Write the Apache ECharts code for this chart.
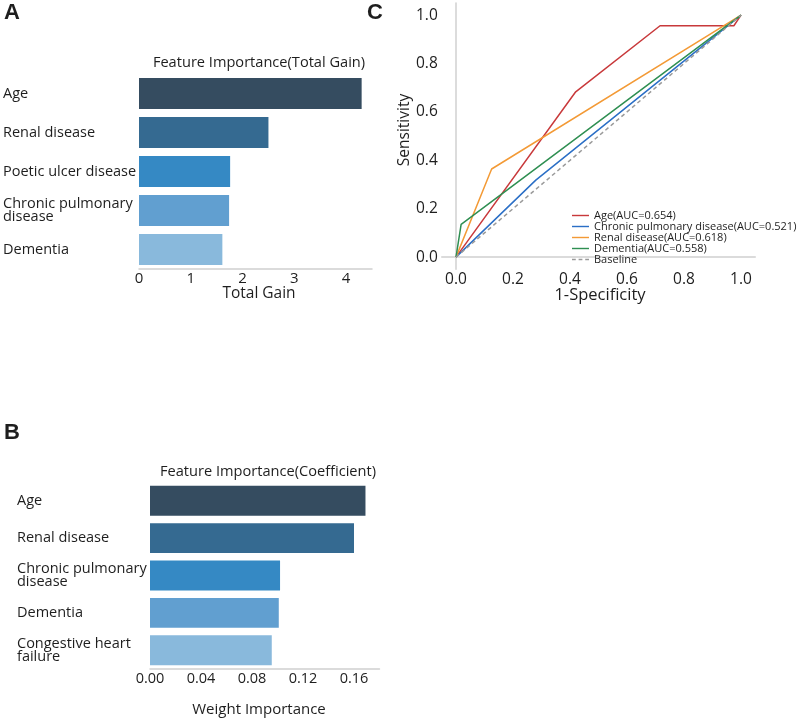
<!DOCTYPE html>
<html>
<head>
<meta charset="utf-8">
<script src="https://cdn.jsdelivr.net/npm/echarts@6/dist/echarts.min.js"></script>
<style>html,body{margin:0;padding:0;background:#fff}#c{width:800px;height:719px}</style>
</head>
<body>
<div id="c"></div>
<script>
// Panel A
const catsA = ['Age', 'Renal disease', 'Poetic ulcer disease', 'Chronic pulmonary\ndisease', 'Dementia'];
const valsA = [4.30, 2.50, 1.76, 1.74, 1.61];
const ticksA = [0, 1, 2, 3, 4];
// Panel B
const catsB = ['Age', 'Renal disease', 'Chronic pulmonary\ndisease', 'Dementia', 'Congestive heart\nfailure'];
const valsB = [0.169, 0.160, 0.102, 0.101, 0.0955];
const ticksB = [0, 0.04, 0.08, 0.12, 0.16];
// Panel C (ROC)
const rocTicks = [0, 0.2, 0.4, 0.6, 0.8, 1.0];
const ageX = [0, 0.42, 0.716, 0.975, 1];
const ageY = [0, 0.683, 0.956, 0.956, 1];
const copdX = [0, 0.28, 1];
const copdY = [0, 0.318, 1];
const renalX = [0, 0.125, 1];
const renalY = [0, 0.364, 1];
const demX = [0, 0.004, 0.018, 1];
const demY = [0, 0.03, 0.135, 1];
const baseX = [0, 1];
const baseY = [0, 1];
const rocNames = ['Age(AUC=0.654)', 'Chronic pulmonary disease(AUC=0.521)', 'Renal disease(AUC=0.618)', 'Dementia(AUC=0.558)', 'Baseline'];
const rocColors = ['#c8393b', '#2b6fc6', '#f39a36', '#2f8f52', '#9a9a9a'];

const barColors = ['#354c60', '#356a91', '#3589c4', '#619fd0', '#89b9dc'];
const FONT = '"Open Sans", "Noto Sans", sans-serif';
const TXT = '#1e1e1e';
const SOLID_ICON = 'path://M0,0h18v1.5h-18z';
const DASH_ICON = 'path://M0,0h4v1.5h-4zM7,0h4v1.5h-4zM14,0h4v1.5h-4z';

function zip(xs, ys) { return xs.map((x, i) => [x, ys[i]]); }

const chart = echarts.init(document.getElementById('c'), null, {renderer: 'canvas'});

function barSeries(vals, xi, yi) {
  return {
    type: 'bar', xAxisIndex: xi, yAxisIndex: yi,
    data: vals.map((v, i) => ({value: v, itemStyle: {color: barColors[i]}})),
    barCategoryGap: '20%', silent: true
  };
}

function rocSeries(i, xs, ys, dashed) {
  return {type: 'line', name: rocNames[i], xAxisIndex: 2, yAxisIndex: 2, data: zip(xs, ys), symbol: 'none',
    lineStyle: {color: rocColors[i], width: 1.5, type: dashed ? [4, 3] : 'solid'}, itemStyle: {color: rocColors[i]}};
}

function txt(text, x, y, size, opts) {
  return {
    type: 'text', x: x, y: y,
    style: Object.assign({text: text, fill: TXT, font: size + 'px ' + FONT, textAlign: 'center', textVerticalAlign: 'middle'}, opts || {})
  };
}

const option = {
  animation: false,
  textStyle: {fontFamily: FONT},
  grid: [
    {left: 136, top: 74, width: 236, height: 195},
    {left: 150, top: 482, width: 229.5, height: 187},
    {left: 441.75, top: 3, width: 313.5, height: 266.2}
  ],
  xAxis: [
    {gridIndex: 0, type: 'value', min: 0, max: 4.5, interval: 1,
      axisLine: {show: true, lineStyle: {color: '#d0d0d0', width: 1.5}}, axisTick: {show: false}, splitLine: {show: false},
      axisLabel: {showMaxLabel: false, color: TXT, fontSize: 15, margin: 2, fontFamily: FONT,
        formatter: v => ticksA.indexOf(v) >= 0 ? String(v) : ''}},
    {gridIndex: 1, type: 'value', min: 0, max: 0.18, interval: 0.04,
      axisLine: {show: true, lineStyle: {color: '#d0d0d0', width: 1.5}}, axisTick: {show: false}, splitLine: {show: false},
      axisLabel: {showMaxLabel: false, color: TXT, fontSize: 14.5, margin: 2, fontFamily: FONT,
        formatter: v => { const t = ticksB.find(k => Math.abs(k - v) < 1e-9); return t === undefined ? '' : t.toFixed(2); }}},
    {gridIndex: 2, type: 'value', min: -0.05, max: 1.05,
      axisLine: {show: true, lineStyle: {color: '#d0d0d0', width: 1.5}}, axisTick: {show: false}, splitLine: {show: false},
      axisLabel: {customValues: rocTicks, color: TXT, fontSize: 15.5, margin: 2, fontFamily: FONT,
        formatter: v => Number(v).toFixed(1)}}
  ],
  yAxis: [
    {gridIndex: 0, type: 'category', data: catsA, inverse: true,
      axisLine: {show: false}, axisTick: {show: false},
      axisLabel: {align: 'left', margin: 136, color: TXT, fontSize: 14.5, lineHeight: 13, fontFamily: FONT}},
    {gridIndex: 1, type: 'category', data: catsB, inverse: true,
      axisLine: {show: false}, axisTick: {show: false},
      axisLabel: {align: 'left', margin: 133, color: TXT, fontSize: 14.5, lineHeight: 13, fontFamily: FONT}},
    {gridIndex: 2, type: 'value', min: -0.05, max: 1.05,
      axisLine: {show: true, lineStyle: {color: '#d0d0d0', width: 1.5}}, axisTick: {show: false}, splitLine: {show: false},
      axisLabel: {customValues: rocTicks, color: TXT, fontSize: 15.5, margin: 4, fontFamily: FONT,
        formatter: v => Number(v).toFixed(1)}}
  ],
  legend: {
    orient: 'vertical', left: 572, top: 210, padding: 0,
    itemWidth: 17, itemHeight: 11, itemGap: 0,
    textStyle: {fontSize: 11, lineHeight: 11, color: TXT, fontFamily: FONT},
    data: rocNames.map((n, i) => ({name: n, icon: i === 4 ? DASH_ICON : SOLID_ICON, itemStyle: {color: rocColors[i]}}))
  },
  series: [
    barSeries(valsA, 0, 0),
    barSeries(valsB, 1, 1),
    rocSeries(0, ageX, ageY, false),
    rocSeries(1, copdX, copdY, false),
    rocSeries(2, renalX, renalY, false),
    rocSeries(3, demX, demY, false),
    rocSeries(4, baseX, baseY, true)
  ],
  graphic: [
    txt('A', 12, 13, 22, {font: 'bold 22px "Liberation Sans", Arial, sans-serif'}),
    txt('B', 12, 433, 22, {font: 'bold 22px "Liberation Sans", Arial, sans-serif'}),
    txt('C', 375, 13, 22, {font: 'bold 22px "Liberation Sans", Arial, sans-serif'}),
    txt('Feature Importance(Total Gain)', 259, 63, 14.6),
    txt('Total Gain', 259, 294, 15.5),
    txt('Feature Importance(Coefficient)', 268, 472, 14.6),
    txt('Weight Importance', 259, 710, 15),
    txt('1-Specificity', 600, 295, 16.5),
    {type: 'text', x: 405, y: 130, rotation: Math.PI / 2,
      style: {text: 'Sensitivity', fill: TXT, font: '15.5px ' + FONT, textAlign: 'center', textVerticalAlign: 'middle'}}
  ]
};
chart.setOption(option);
</script>
</body>
</html>
